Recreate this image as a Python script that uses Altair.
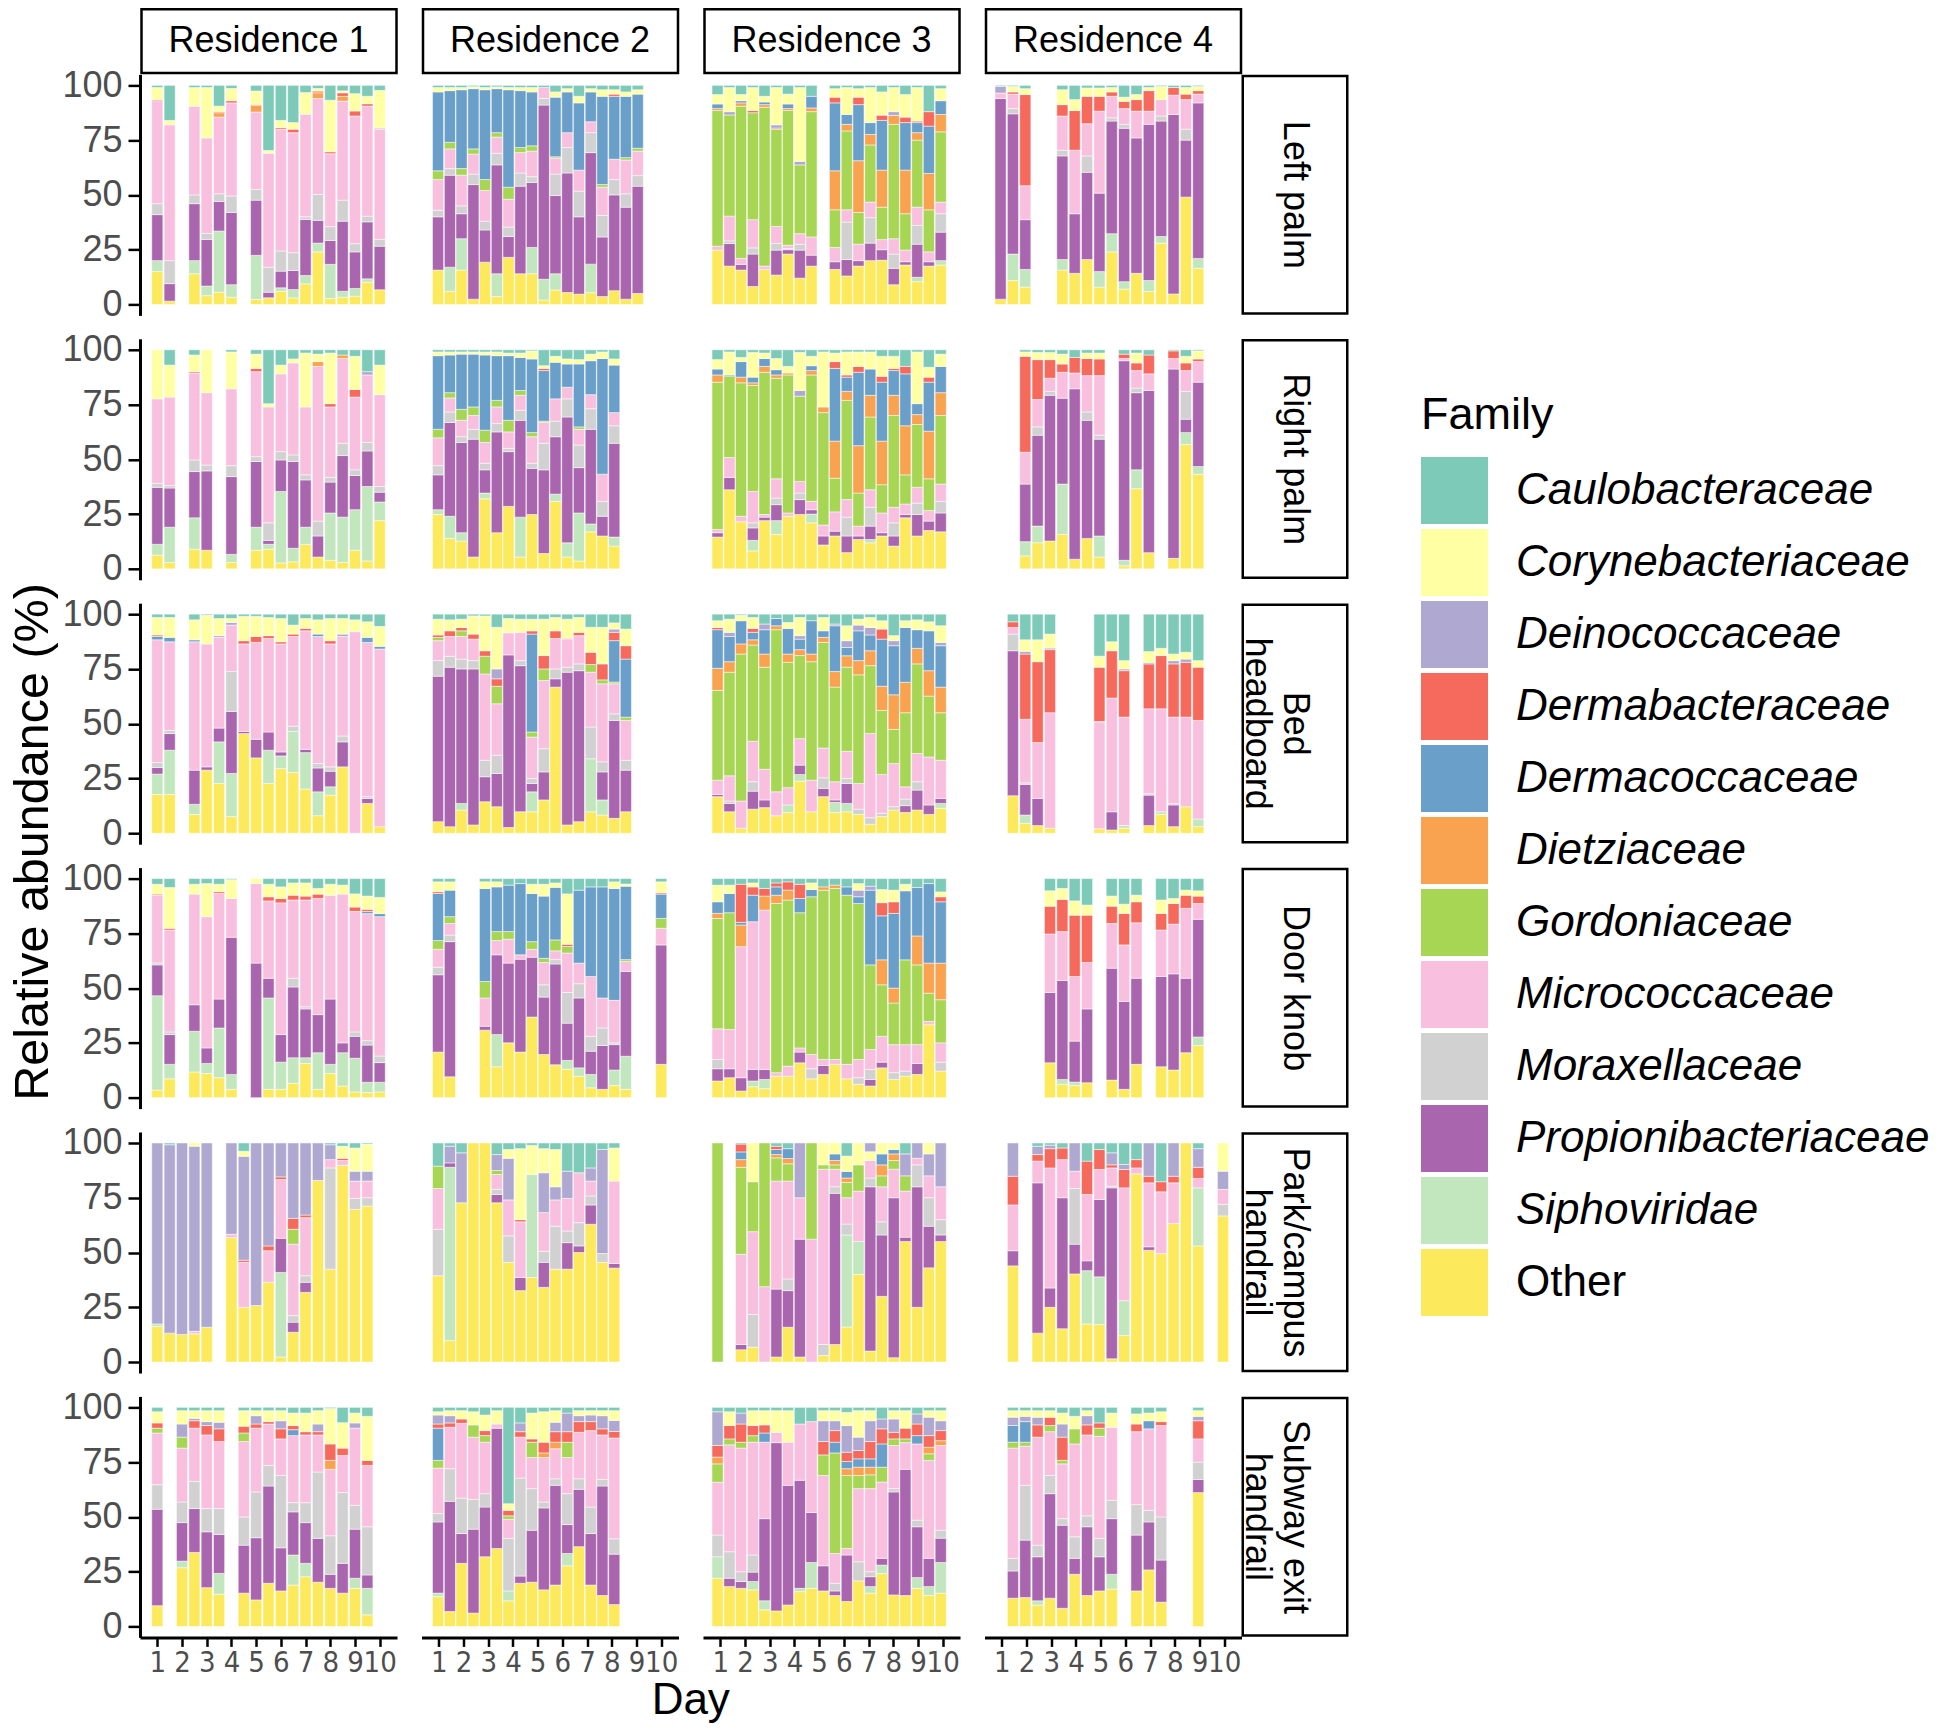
import altair as alt
import pandas as pd

FONT = "Liberation Sans, Arial, sans-serif"
NARROW = "Liberation Sans Narrow, DejaVu Sans Condensed, Liberation Sans, sans-serif"

FAMILIES = ["Caulobacteraceae", "Corynebacteriaceae", "Deinococcaceae", "Dermabacteraceae",
            "Dermacoccaceae", "Dietziaceae", "Gordoniaceae", "Micrococcaceae", "Moraxellaceae",
            "Propionibacteriaceae", "Siphoviridae", "Other"]
COLORS = ["#7ECAB9", "#FFFFA3", "#AFA9D2", "#F66A5E", "#6A9FCA", "#F9A24F", "#A6D654",
          "#F8BFDF", "#D1D1D1", "#A965AE", "#C2E6BE", "#FDE95C"]
CODE = {"T": "Caulobacteraceae", "C": "Corynebacteriaceae", "D": "Deinococcaceae",
        "R": "Dermabacteraceae", "B": "Dermacoccaceae", "O": "Dietziaceae", "G": "Gordoniaceae",
        "K": "Micrococcaceae", "M": "Moraxellaceae", "P": "Propionibacteriaceae",
        "S": "Siphoviridae", "Y": "Other"}

RESIDENCES = ["Residence 1", "Residence 2", "Residence 3", "Residence 4"]
SURFACES = ["Left palm", "Right palm", "Bed headboard", "Door knob",
            "Park/campus handrail", "Subway exit handrail"]
SURFACE_STRIP = ["Left palm", "Right palm", "Bed\nheadboard", "Door knob",
                 "Park/campus\nhandrail", "Subway exit\nhandrail"]
DAY_TICKS = [1, 2, 3, 4, 5, 6, 7, 8, 9, 10]
Y_TICKS = [0, 25, 50, 75, 100]

# sampling days (bar centres) per residence
R1_X = [1.0, 1.5, 2.0, 2.5, 3.0, 3.5, 4.0, 4.5, 5.0, 5.5, 6.0, 6.5, 7.0, 7.5, 8.0, 8.5, 9.0, 9.5, 10.0]
R2_X = [0.97, 1.45, 1.92, 2.40, 2.87, 3.35, 3.82, 4.30, 4.77, 5.25, 5.72, 6.20, 6.67, 7.15,
        7.62, 8.10, 8.57, 9.05, 9.52, 10.00]
R3_X = [0.89, 1.37, 1.84, 2.32, 2.79, 3.27, 3.74, 4.22, 4.69, 5.17, 5.64, 6.12, 6.59, 7.07,
        7.54, 8.02, 8.49, 8.97, 9.44, 9.92]
R4_X = [0.95, 1.45, 1.95, 2.45, 2.95, 3.45, 3.95, 4.45, 4.95, 5.45, 5.95, 6.45, 6.95, 7.45,
        7.95, 8.45, 8.95, 9.45, 9.95]

# each bar: cumulative top (%) of each stacked family, bottom to top
# Y Other, S Siphoviridae, P Propionibacteriaceae, M Moraxellaceae, K Micrococcaceae,
# G Gordoniaceae, O Dietziaceae, B Dermacoccaceae, R Dermabacteraceae, D Deinococcaceae,
# C Corynebacteriaceae, T Caulobacteraceae
LP_R1 = ["Y15 S20 P41 M46 K93 R93.5 C99 T100", "Y1.5 P9.5 M20 K82 C84 T100", "",
         "Y14 S20 P46 M50 K90.5 C99 T100", "Y4 S8.4 P29.7 M32.4 K76 C99 T100",
         "Y5.6 S33.5 P47 M50.5 K85.5 O87.5 R88 C90.5 T100", "Y3.3 S9 P42 M49.5 K92 R93 C98.6 T100", "",
         "Y2.3 S22.4 P47.6 M52.5 K87.8 O90.9 R91.3 C97.4 T100", "Y3 P5.6 M17 K69 C70.3 T100",
         "Y6 S7.6 P15.2 M24.4 K80 R80.7 C84 T100", "Y3 S6.8 P15.5 M23.6 K78.4 R80 C83 T100",
         "Y9.4 S13.2 P38.8 M40 K86.8 C96.7 T100", "Y24 S28 P38.4 M50.2 K94 O96.6 R97.4 C98.6 T100",
         "Y2.7 S18.3 P29.2 M35.5 K68.8 R69.7 C93.2 T100", "Y3.3 S6 P38 M47.6 K92.8 O95 R96.6 C97.5 T100",
         "Y3.8 S7.3 P24 M27.7 K86 R88.3 C96.2 T100", "Y10.2 S11.7 P37.7 M40.3 K90.5 R91.6 C95 T100",
         "Y6.7 P26.6 M29.7 K80 D80.5 C97.7 T100"]
RP_R1 = ["Y6.3 S11.2 P37.2 M39 K77.6 C100", "Y2.9 S19 P36.9 M38 K78.4 C93 T100", "",
         "Y9 S23.3 P44.4 M49.7 K89.4 R90 C97.6 T100", "Y8.5 P44.7 M47.4 K80.4 C100", "",
         "Y2.9 S6.6 P42.1 M47.1 K82.2 C99 T100", "",
         "Y8.5 S19 P49 M51.2 K90 R91.5 C98 T100", "Y9 S11.2 P13 M21 K73.9 C75.4 T100",
         "Y2.7 S35.3 P49.7 M53.5 K89 C93 T100", "Y3.2 S9.4 P49 M52 K94 C95.8 T100",
         "Y11.2 S19 P40.6 M42.9 K73.9 C98.5 T100", "Y5.4 P15 M21.8 K92.4 O94.6 C98 T100",
         "Y3.9 S25.5 P39.6 M41.7 K73.9 R75.4 C98.5 T100", "Y2.9 S23.6 P51.7 M57.3 K96 O97.6 T100",
         "Y8.5 S27 P42.6 M45.2 K78.4 R81.9 C97 T100", "Y3.6 S37.6 P53.8 M57.7 K88.5 D90 T100",
         "Y22 S30.5 P35 M37.6 K79.5 C93 T100"]
BH_R1 = ["Y17.7 S27 P30 M32.3 K88.3 B89.8 R90.5 C98.5 T100", "Y17.7 S37.9 P45.5 M47 K87.4 B89.4 C98.5 T100", "",
         "Y8.6 S13.2 P28.8 K87.4 B88.3 C97.4 T100", "Y28.8 P30.3 K86.4 C99.5 T100",
         "Y22.7 S41.7 P48 K89.4 D90.2 C98 T100", "Y7.6 S27.3 P55.6 M73.8 K95 D96.2 C98 T100",
         "Y45.5 P46.5 K86.4 R87.9 C99 T100", "Y34.4 P42.9 K87.1 R89.8 C99 T100",
         "Y22.7 S37.9 P46.2 K88.9 R90.2 C98.5 T100", "Y29.5 S35.3 P37.1 K86.4 R87.4 C98 T100",
         "Y27.7 S46.5 M48.9 K89.8 R90.9 C95 T100", "Y20.2 S36.8 P38.3 K92.4 R93.5 C98 T100",
         "Y8 S18.9 P29.8 M31.8 K89.8 B90.9 C97.4 T100", "Y17.4 S21.2 P28.3 M30.3 K86.4 R87.9 C98 T100",
         "Y30.3 P41.7 M44.4 K89.8 D90.9 C98 T100", "K92 C97.4 T100",
         "Y13.6 P15.9 M16.7 K87.1 B89.4 C96.5 T100", "Y3 K84.1 B85.3 C94.4 T100"]
DK_R1 = ["Y3.5 S46.5 P60.6 M61.5 K92.4 O93 C97.4 T100", "Y8.6 S15.2 P28.8 M30 K76.5 R77.3 C95.9 T100", "",
         "Y11.7 S30.3 P42.4 K92.9 C97.4 T100", "Y11 S15.6 P22.7 K82.6 C97.7 T100",
         "Y9.1 S31.8 P45 K93.2 R94 C97.4 T100", "Y3.8 S10.6 P73.2 K90.9 C99.5 T100", "",
         "P61.4 K97.7 C100", "Y3.8 S45.5 P54.5 K89.8 R91.7 C97.4 T100",
         "Y3.8 S16.2 P28.8 K88.9 R90.9 C96.2 T100", "Y6.5 S18.2 P50.5 M54.5 K90.2 R92.4 C98 T100",
         "Y15.6 S18.2 P40.5 M41.5 K90.2 R92 C98 T100", "Y3.8 S20.5 P37.9 K90.9 R92.9 C95.5 T100",
         "Y11 S15.2 P45 K92.4 C97.4 T100", "Y5.3 S20.5 P25 K92.9 C97 T100",
         "Y2.6 S18 P28 M30 K85 R87 C93 T100", "Y2.3 S7 P24 M26 K84 B85 R86 C92 T100",
         "Y2.6 S7 P16 M19 K82.6 B84 C91.4 T100"]
PH_R1 = ["Y16.2 S17.4 D100", "Y13.2 D99.2 T100", "Y12.6 D100", "Y12.9 K14 D98.5 C100", "Y15.9 D100", "",
         "Y56.8 K58.3 D100", "Y25 K45.5 R46.5 D93.9 C96.2 T100", "Y25.8 D100",
         "Y36.4 K50.8 R53 D100", "Y2.3 S40.9 P56.5 K83.3 R84.5 D100",
         "Y13.6 P18.2 M21.2 K53.8 G60.6 R65.6 D100", "Y31.8 P36.4 M39.4 K65.9 R67.1 D100",
         "Y82.9 D100", "Y42.4 M88.6 K92.4 D99.2 T100", "Y89.8 K92 R93 C98.5 T100",
         "Y69.7 M74.7 K82.6 D87.1 C97.7 T100", "Y71.2 M75 K82.6 D87.1 C99.5 T100", ""]
SH_R1 = ["Y9.5 P53.5 M64.7 K88.3 G90.5 R92.9 C98 T100", "",
         "Y26.8 S29.8 P47.4 M56.8 K81.4 G86.4 D92.4 C98.5 T100",
         "Y33.8 P53.8 M66.2 K90.5 R93.9 D95 C98.5 T100",
         "Y17.7 P43.2 M53.8 K87.4 R91.7 D93.5 C98.5 T100",
         "Y14.7 S24.2 P42 M53.8 K84.4 R90.2 D93.2 C98.5 T100", "",
         "Y15.2 P37.1 M50 K84.4 G88.3 R91.4 C98.5 T100",
         "Y12.1 P40.5 M61.4 K90.5 R92.4 D96.2 C98.5 T100",
         "Y19.7 P64.1 M73.5 K92.4 R93.5 C98.5 T100",
         "Y16.2 P35.9 M68.9 K85.6 R90.2 D93.9 C98.5 T100",
         "Y18.9 S32.6 P52.3 M56.5 K87.1 B89.8 R91.7 C97.4 T100",
         "Y22.7 S28.8 P47.4 M56.5 K87.4 R88.9 C97.4 T100",
         "Y20.2 P40.2 M70.5 K87.4 R88.9 D92.4 C98.5 T100",
         "Y17.4 P23.8 M41.4 K71.7 O75.8 R83.3 C99.5 T100",
         "Y15.2 P28.8 M61.1 K78 R81.4 C93 T100",
         "Y17.4 S22 P44.4 M55.3 K90.5 D92.9 C97.4 T100",
         "Y5.3 S17.4 P23.5 M45.5 K73.5 R75.8 C95.9 T100", ""]

LP_R2 = ["Y15.7 P40 M43 K57 G61 B97 C99 T100", "Y6 S17 P59 M62 K71 G74 B97.6 C99 T100",
         "Y15.7 S30 P41.4 M45 K59 G62 B98 C99 T100", "Y2.4 P54.7 M59.5 K68.6 G71 B98.5 C99.4 T100",
         "Y19.3 P34 M38 K52 G57 B98 C99 T100", "Y3.6 S14 P63.7 M69 K76.4 G78.4 B98.5 C99.3 T100",
         "Y21.5 P31 M35.3 K48 G53.5 B98 C99 T100", "Y14 P54 M60 K69.3 G71.6 B97.6 C99 T100",
         "Y14 S26 P55.7 M58.3 K70 G72.4 B97 C99 T100", "Y2 S11.5 P91 M94 K99 T100",
         "Y6.6 S14 P49.7 M59.5 K66.8 G67.4 B94.6 C97 T100", "Y5.4 P60 M71.6 K78.4 B97 C98.5 T100",
         "Y4.7 P40 M51.7 K61.3 B92 C95 T100", "Y5.4 S18.4 P69.3 M78.4 K83.4 B97 C98.5 T100",
         "Y3.6 P30.8 M40.6 K53.5 G54.7 B95 C98 T100", "Y6.3 P50 M57 K66.3 B95 R96 C98 T100",
         "Y2.4 P44.4 M50.5 K65.9 G67 B95 C97 T100", "Y5 P54 M58.8 K70 G71.3 B96 C98 T100", "", ""]
RP_R2 = ["Y24.8 S27 P42.9 M47.1 K59.8 G63.7 B97.3 C99 T100", "Y13.9 S24 P66.8 M71.6 K78 G80.4 B97.6 C99 T100",
         "Y12.7 S16.5 P57.7 M60.3 K67.8 G72.8 B98 C99 T100", "Y5.4 P59.2 M63.7 K70 G73.9 B98 C99 T100",
         "Y32 S34.6 P45.2 M48.2 K57.7 G63.3 B97.6 C99 T100", "Y16.5 P62.5 M66.3 K73.9 G76.9 B97.3 C99 T100",
         "Y28.5 P53.5 M55 K62.5 G67.8 B97.3 C98.5 T100", "Y5.4 S23.6 P67.8 M72.4 K79.2 G81.4 B96.5 C98.5 T100",
         "Y24.8 P45.9 M48.2 K60.3 G62.2 B95.8 C99.5 T100", "Y7 P45.2 M57.3 K66.8 G67.4 B90.5 R91.5 C92.7 T100",
         "Y30.8 S34.1 P60.3 M67.4 K77.6 B94.3 C97 T100", "Y5.4 S11.9 P69.3 M77.6 K82.9 B93.5 C95.8 T100",
         "Y3.6 S25.5 P46.2 M56.5 K63.7 G64.8 B93.5 C95.5 T100", "Y16.9 S20.5 P63.7 M73.1 K79.5 B95 C98 T100",
         "Y15 P24 M30.8 K43.2 B96 C99 T100", "Y10.4 S14.5 P57.3 M65.3 K71.3 B93 C95.8 T100",
         "", "", "", ""]
BH_R2 = ["Y5.3 P71.7 M78.8 K87.9 G89.4 R90.5 C97.7 T100", "Y3 P75.8 M80.8 K89.8 R92.4 C97.4 T100",
         "Y10.6 S13.6 P75 M79.5 K89.8 G92.4 R93.9 C97.7 T100", "Y3.8 P75 M78.8 K88.6 R90.9 C99.2 T100",
         "Y14.4 P25.8 M33.3 K72.7 G80.8 R83.3 C99.2 T100", "Y12.1 P27.3 M35.6 K59.1 G67.1 R70.5 D75 C94 T100",
         "Y2.6 P81.4 K91.5 C98 T100", "Y9.8 P76.5 M78.8 K91.7 C97.7 T100",
         "Y9.8 S18.9 P22.7 M25 K43.9 G46.2 B90.9 R92.4 C97.7 T100", "Y15.2 P28 M38.6 K69.7 G75 R81.1 C97.7 T100",
         "Y66.7 P70.5 M75 K88.9 R92.4 C98.5 T100", "Y3.8 P73.5 M75.8 K88.6 R89 C97.7 T100",
         "Y5.3 P74.2 M77.3 K90.2 R91.7 C98.5 T100", "Y9.8 S34 M48.5 K73.5 G77 R82.6 C94 T100",
         "Y8.3 S15.2 P28 M32.6 K68.2 G70 R77.3 C94 T100", "Y6.8 P51.5 M54.5 K68.2 G69 B87.9 R91.7 D93.2 C96 T100",
         "Y9.8 P28.8 M33.3 K51.5 G53 B79.5 R85.6 C93.2 T100", "", "", ""]
DK_R2 = ["Y20.8 P56.1 M59.5 K67.7 G71.7 B93.2 R94 C98.5 T100", "Y9.5 P71.2 M74.2 K79.5 G82.6 B94.7 C98.5 T100",
         "", "", "Y30.8 P32.6 K45.5 G53 B95.5 C98.5 T100", "Y14.1 S28.8 P65.2 K71.7 G75.8 B96.2 C98.5 T100",
         "Y25 P61.4 K72.3 G75.8 B97 T100", "Y20.8 P63.2 K65.2 B97.7 T100",
         "Y36.8 P64.1 K67.7 G71.2 B93.2 C97.4 T100", "Y19.7 P45.9 M51.5 K61.7 G63.6 B92 C97.4 T100",
         "Y15 P61 M63 K67 G72 B96 C98 T100", "Y13 S17 P34 M48 K66 G69 R70 C93 T100",
         "Y9.8 S13.6 P45.5 M52 K61.4 B94.7 T100", "Y4.5 S10.6 P21.2 M28 K55.3 B96.2 T100",
         "Y3.8 P23.8 M31.8 K45.5 B96.2 T100", "Y5.6 S12.6 P24.2 M25 K44.4 B95.5 C98.5 T100",
         "Y3.8 S18.9 P57.6 K62.1 G63 B96.5 C97.5 T100", "", "", "Y15.2 P69.7 K77.3 G81.8 B92.9 R93.5 C98.5 T100"]
PH_R2 = ["Y39.4 M60.6 K79.2 G89.4 T100", "Y9.8 S88.9 P90.9 D98.5 T100", "Y72.7 D95.5 T100", "Y100", "Y100",
         "Y72.7 P76.5 M78.8 K85.6 G87.4 D94.7 T100", "Y45.5 M57.6 K74 D93 C97 T100",
         "Y32.6 P38.6 K64 R65 C97.4 T100", "Y38.6 S85.6 C98.9 T100",
         "Y34.1 P45.5 M50.5 K68.2 D86.4 C97.4 T100", "Y42.4 M62 K74 D80 C97 T100",
         "Y42.4 P54.5 M59.8 K74.7 D87.1 T100", "Y50 P53 M63.6 K86.4 T100",
         "Y62.9 P71.7 M75.8 K82.6 D88.6 T100", "Y45.5 M49.5 D97 T100", "Y42.9 P45 K82.6 C97.7 T100",
         "", "", "", ""]
SH_R2 = ["Y13.6 S15.2 P47.7 M51.5 K72.3 G75.8 B90.5 R92.4 D96.5 C98 T100",
         "Y6.8 P57.1 M72 K90.9 R92.9 D96.2 C98.5 T100", "Y28.8 P42.4 M58.6 K92.7 R94.7 C98.5 T100",
         "Y6.1 P44.4 M58 K86.4 G92 C98 T100", "Y31.8 P54.5 M60.6 K84.1 G87.1 R89.4 C96.5 T100",
         "Y35.6 P90.5 K92.4 C98.5 T100", "Y11.7 S16.2 M40.2 K48.9 G50.5 R53 C56 T100",
         "Y19.7 P23 M67.7 K86.4 R88.9 D92.9 T100", "Y20.2 P43.9 M62.9 K77.1 G84.1 R85.6 C97.4 T100",
         "Y16.7 P54.1 M56.8 K77.1 O79.2 R84.1 C98 T100", "Y18.9 P64.4 M67.4 K81.1 O84.1 R88.9 D93.2 C98.5 T100",
         "Y27.7 S33.3 P46.5 M60.6 K77.1 G84.1 R88.9 D97.4 T100", "Y36.4 P62.6 M67.4 K88.6 R93.5 D96.2 C98.5 T100",
         "Y18.9 P42.4 M54.5 K89.4 R93.5 D96.5 C98.5 T100", "Y14.1 P64.1 M67.1 K87.4 R90.2 D96.2 C98.5 T100",
         "Y10 P33 M40 K86 R89 D94 C98.5 T100", "", "", "", ""]

LP_R3 = ["Y24.8 K26.6 G88.5 O89.4 B91.5 C95.8 T100", "Y17.5 P27.8 M29 K40.3 G86.5 D88 C99 T100",
         "Y15.7 P18.3 K21 G90.5 O92 B93 C95.8 T100", "Y8.2 P23 M25.8 K38.7 G87.5 R88.5 C99 T100",
         "Y16 K17.5 G90 O91.2 B92.4 C95 T100", "Y13.4 P24.8 M27.8 K35.6 G80 R80.5 D82 C99 T100",
         "Y23 P25 M25.5 K27 G88.5 O89.4 B91.5 C96 T100", "Y12 P24.8 M27.5 K32.3 G63.7 D65.3 C99 T100",
         "Y17.5 P22.5 K30.8 G88 O89.7 B95 T100", "",
         "Y16 P19.5 K26 G43.2 O61 B92 R94.6 C98.5 T100", "Y13 P20.5 M37.6 K43.2 G79.2 O82.2 B86.7 C99 T100",
         "Y17.5 P20 K27.5 G42 O65.6 B91.2 R94.6 C98.5 T100", "Y20 P28 M39.6 K46.7 G72.8 O77.6 B83 C99 T100",
         "Y20.2 P25 K29.6 G44.4 O61.3 B84 R86.4 C97 T100", "Y9 P16.5 M23 K30 G82.2 O86.3 D88 C99 T100",
         "Y18 P19.5 K24.8 G41.4 O61.3 B83 R85.5 C95.8 T100",
         "Y10.4 S12.4 P27.5 M36.1 K44.4 G75 O78.4 B83 R83.7 C99 T100",
         "Y17.5 P19.5 K24 G43.2 O59.8 B81.4 R88 T100", "Y18 S20 P33 M41.4 K46.7 G78.8 O86.7 B93 C98.5 T100"]
RP_R3 = ["Y14.5 P16.5 K18 G85.2 O88.5 B91.2 C95.5 T100", "Y36.1 P41.7 K50.8 G88 B88.5 C99 T100",
         "Y21.5 K24 G84.9 O87.5 B94.6 C96.5 T100", "Y8.2 S13 P18.7 M21 K35.3 G83.7 O84.9 B87.5 C98.8 T100",
         "Y22 P23.6 K24.8 G89.7 O92.4 B96 C98.5 T100", "Y15.7 S22 P29.3 M32.3 K41.1 G87 O88.5 B90.9 C96 T100",
         "Y24 K25.5 G88.5 O89.4 C92.4 T100", "Y24.8 P31.6 M34.6 K39.9 G78.8 D81.4 C98.8 T100",
         "Y21 S25 P27 K30.8 G88.5 O90.5 B92.7 C97 T100", "Y10.9 P15 K20 G71.3 O73.9 C99 T100",
         "Y15 P17.2 K26 G41.4 O58.3 B91.5 R94.6 C98.5 T100", "Y7.4 P15 M23.6 K31.6 G76.9 O81 B87.5 R88.5 C99 T100",
         "Y13.4 P15 K19.5 G34.6 O56.2 B89.7 R92.4 C99 T100", "Y11.9 S13.4 P19.5 M28.1 K36.1 G69.3 O79.2 B91.2 C99 T100",
         "Y15 P16.5 K25.5 G38.4 O58.3 B85.2 R87.9 C97 T100", "Y10.4 P15 M21 K28.1 G70 O79.2 B90.5 R91.5 C97 T100",
         "Y23.3 P24.8 K29.6 G42.9 O65.3 B89 R92.4 T100", "Y15 P24.8 M30 K37.2 G65.9 O70.4 B75.4 C99 T100",
         "Y17.5 P21.8 K26.6 G41.1 O62.8 B85.2 R87.5 C92 T100", "Y16.9 P25.5 M30.8 K38.7 G70 O80.4 B92.4 C98 T100"]
BH_R3 = ["Y16.7 P17.7 K24.2 G65.2 O75.3 B92.9 R93.9 C97 T100",
         "Y9.8 P13.6 M14.7 K26.2 G73.5 O78.3 B89.8 D91.7 C97.7 T100",
         "Y2.3 K14.7 G81.8 O86.4 B97 C99.5 T100", "Y11 P19.2 M23.5 K42 G85.9 O88.3 B91.7 R93.5 C98.5 T100",
         "Y11.7 P15.2 K29.2 G75.8 O81.8 B92.9 D95.5 T100", "Y8 K18.9 G92.9 O94.7 B98 T100",
         "Y9.5 S12.9 K20.8 G78 O81.8 B93.5 C96.2 T100",
         "Y23.8 S26.8 P31.1 K43.2 G81.1 O83.8 B88.6 D90.2 C98.5 T100",
         "Y9.8 K24.2 G78.3 O81.8 B97 T100", "Y16.7 P20.5 M25.3 K38.9 G87.1 O89.4 B92.4 C98.5 T100",
         "Y9.5 S14.1 P15.2 K23.5 G66.7 O73.8 B94.7 D95.5 T100",
         "Y9.8 S13.6 P22.7 M25 K37.4 G75.8 O81 B84.8 D87.9 C94.7 T100",
         "Y8.6 M11 K22.7 G72.3 O78.8 B92.4 D95 C97.7 T100", "Y4.1 M7.1 K45.5 G76.5 O83.3 B90.5 D93.9 C98.5 T100",
         "Y7.6 M9.1 K26.8 G56.1 O67.1 B88.6 R93.2 C97 T100", "Y10.6 M12.1 K31.8 G47.4 O63.2 B85.6 D87.9 C90.2 T100",
         "Y9.5 P12.6 M15.6 K21.2 G55 O68.9 B93.9 C97 T100", "Y10.6 P19.7 M23.5 K36.4 G77.3 O84.4 B92.9 C97.4 T100",
         "Y8.6 P12.9 K34.8 G62.6 O74.2 B92.4 C96.5 T100", "Y11.4 S13.6 P15.9 K33.3 G55 O66.7 B85.6 D87.1 C94.7 T100"]
DK_R3 = ["Y7.6 P13.2 M17.4 K31.4 G81.8 O84.1 B89.4 C97 T100", "Y9.1 P13.2 K31.1 G84.4 B93.2 C97 T100",
         "Y3 P9.1 K68.9 O78.8 B80 R97.4 T100", "Y5 S7.6 P12.9 K80.3 B92.4 R96.2 C98 T100",
         "Y4.1 S8.3 P12.9 K85.6 O92 R95.5 T100", "Y9.8 K11.4 G88.6 O92.4 B96.2 R98 T100",
         "Y9.8 K14.4 G90.2 O94.7 R98.5 T100", "Y15.9 P20.8 K22.7 G84.4 B90.9 R97.4 T100",
         "Y8.6 M13.2 K19.7 G91.7 B95 C98 T100", "Y10.6 P14.7 K17.4 G94.7 O96.2 T100",
         "Y15.2 K17.4 G95.5 O97 T100", "Y8.6 K15.2 G92.4 B96.2 T100",
         "Y6.1 M9.1 K17.4 G88.6 B91.7 D94.7 C97.7 T100", "Y5.3 P8.3 M12.9 K22 G60.6 B94.7 D96.5 T100",
         "Y13.6 P16.2 K28 G51.5 O62.9 B83 R89 C95 T100", "Y8.3 M11.4 K24.2 G43.2 O50 B84.1 R89.4 C94.7 T100",
         "Y9.8 M12.1 K24.2 G62.9 B94.4 C97.4 T100", "Y10.6 P15.6 K24.2 G60.6 O73.8 B95.9 T100",
         "Y33.3 K34.8 G47.7 O61.4 B97.7 T100", "Y12.1 M16.2 K25 G44.7 O61.4 B89.4 R91.7 C93.9 T100"]
PH_R3 = ["G100", "", "Y5.6 P8 K49.2 G88.9 O92.4 B95.9 R99.5 T100", "Y6.8 M21.7 K59.5 G82.3 C100",
         "K34.4 G100", "Y2.3 P33.3 K82.6 G93.2 O94.7 B97 R98.5 T100",
         "Y15.9 P32.6 M37.9 K82.6 G90.5 O92.9 B97.4 T100", "Y2.3 P56.1 K75 D100", "K56.1 G100",
         "Y3 M8 K88 G90 C100", "Y8 P77 M80 K88 G90 O92 B95 C100", "Y16 S58 M63 K75 G82 O84 B87 C94 T100",
         "Y40 S55 K78 G90 C100", "Y5 P80 M84 K92 C96 D100", "Y30 P58 M64 K80 G85 O90 B95 C100",
         "Y2 P75 K88 G92 O95 B97 C100", "Y55 P57 K78 G85 D95 T100", "Y25 P80 M90 K93 D100",
         "Y43 P62 M75 K85 D95 C100", "Y55 P58 M65 K80 D100"]
SH_R3 = ["Y22 S31.8 M41.7 K65.8 G74.2 O77.3 R82.6 D98 T100", "Y18.2 P22 M34.1 K82.9 G85.6 R91.7 C98 T100",
         "Y17.4 P20.5 M25 K81.4 G84.1 R92.4 D97.4 T100", "Y16.7 S20.5 P24.8 M32.6 K84.1 G87.1 R91.7 C98.5 T100",
         "Y7.6 S11.7 P49.2 K84.1 B88.3 R92 C98.5 T100", "Y7.1 P83.9 K88.6 C98.5 T100",
         "Y9.8 P64.4 K84.1 C98.5 T100", "Y15.9 S17.4 P66.7 K92.4 T100", "Y17.4 S29.2 P52 K93.5 T100",
         "Y16.2 P27.7 K68.9 G78.3 R84.4 D93.9 C98.5 T100",
         "Y14.1 P16.2 M19.7 K33.3 G79.2 B84.1 R89.4 D93.9 C98.5 T100",
         "Y11.4 P32.6 K35.6 G68.9 O72 B75.3 R79.5 D91.7 C97.7 T100",
         "Y20.8 M29.5 K62.9 G68.9 O72.7 B76.5 R80.3 D86.4 C98.5 T100",
         "Y15.2 S18.2 P22.7 M25 K62.9 G69.2 O72.7 B76.5 R84.4 D93.9 C98.5 T100",
         "Y24.2 S28 P31.1 K65.9 G72.7 B83.3 R90.2 D94.7 T100",
         "Y14.4 P61.4 M62.9 K82.6 G85.6 R88.6 D94.7 C98.5 T100", "Y14.1 P71.7 K83.9 G85.6 R90.5 C98.5 T100",
         "Y17.4 S22.3 P45.5 M48.5 K83.3 B87.1 R92.4 D97 T100",
         "Y14.1 S18.2 P31.1 K75.8 G78.8 O81.8 R87.1 D95.5 C98.5 T100",
         "Y15.2 S29.2 P40.3 M43.9 K82.6 O84.8 R89.4 D93.9 C98.5 T100"]

LP_R4 = ["Y2.4 P94 K96.5 D99.5 T100", "Y10.9 S23 P87 M89.4 K96 R97 C99.5 T100",
         "Y7.9 S16 P38.7 K54.2 R95.8 C98.5 T100", "", "",
         "Y15.7 S20.5 P67.8 M70.4 K86 R91.2 C98 T100", "Y14.2 P41.4 K70.4 R88.5 C93.5 T100",
         "Y20.5 P60.3 M67.8 K82.5 R95 C98.8 T100", "Y7.9 S15 P50.8 K88.2 R95 C98.8 T100",
         "Y24 S32.3 P83.7 M85.2 K95 R97 C99 T100", "Y7 S10.4 P80.4 M82.2 K89.4 R92.7 C94.6 T100",
         "Y14.2 P76 K88.2 R93.5 C95.8 T100", "Y5.9 S10.9 P82.2 K88.2 R97.6 C99 T100",
         "Y28 S31 P83.7 M86 K93.5 C99.5 T100", "Y4.8 P86.7 K95.5 R99 T100",
         "Y49 P75 M80 K93.5 R96 C99 T100", "Y16.5 S21 P92 K96 R97.6 C99.5 T100", "", ""]
RP_R4 = ["", "", "Y5.9 S12.4 P38.7 K53.2 R97 C99 T100", "Y11.9 S19.5 P61 M64.8 K77.3 R95.5 C98.8 T100",
         "Y12.7 P79.2 M81 K87 R95.5 C98.8 T100", "Y15.7 S38.7 P77.9 K89.7 R93.5 C98 T100",
         "Y4.4 P82.2 K89.4 R96.5 T100", "Y13.9 P67.8 M71.6 K88.2 R96 C98.5 T100",
         "Y5.4 S15 P59.2 M61 K88.2 R95.8 C98.5 T100", "", "Y1.4 S3.9 P95 K96 R98 T100",
         "Y36.6 S45.2 P80.4 M82.5 K90.5 R94 C98.5 T100", "Y7.4 P81.4 K89 R97.6 T100", "",
         "Y4.8 P91.2 K96 R99.5 T100", "Y56.8 S62.2 P68.3 M81 K90.5 R94 C97 T100",
         "Y43.2 S46.7 P85.2 K94.6 R95.8 C99.5 T100", "", ""]
BH_R4 = ["", "Y17.1 P83.3 M90.9 K93.9 R96.5 T100", "Y4.5 S8.3 P22.3 M23 K52 R81.8 D83 C88.3 T100",
         "Y3.5 P15.9 K41.4 R78.3 C88.3 T100", "Y2.3 K55 R83.8 D84.5 C90.9 T100", "", "", "",
         "Y2 K50.5 D51 R75.8 C80.8 T100", "Y1.5 P9.8 K61.7 R83.3 C87.4 T100",
         "Y2.3 S3.5 K53 R74.2 D75 C78.8 T100", "",
         "Y3.5 P17.4 M18 K56.8 R77.3 D78 C82.9 T100", "Y8.6 S9.8 K56.8 R81.1 C84.4 T100",
         "Y3 P12.9 M13.5 K53 R77.3 D78.8 C81.8 T100", "Y12.1 K53 R78 D79.5 C82.6 T100",
         "Y3 S6.5 K51.5 R75.8 C78.8 T100", "", ""]
DK_R4 = ["", "", "", "", "Y15.9 P48 K74.7 R87.4 C94.4 T100", "Y6.1 S8.3 P53.5 K75.8 R90.5 C95.5 T100",
         "Y5.6 S7.1 P25.8 K55.3 R83.3 C89.8 T100", "Y6.8 P40.5 K61.7 R83.3 C87.9 T100", "",
         "Y8 P59.1 K79.5 R87.4 C92 T100", "Y3.8 P43.9 K69.7 R84.1 C88.3 T100",
         "Y15.2 P54.5 K79.8 R89.4 C92.4 T100", "", "Y14.1 P55.3 K76.5 R84.1 C90.2 T100",
         "Y12.6 P56.5 K79.2 R88.6 C90.9 T100", "Y20.5 P54.5 K86.4 R92.4 C94.7 T100",
         "Y23.8 S27.7 P81.4 K88.6 R92 C94.4 T100", "", ""]
PH_R4 = ["", "Y43.9 P50.8 K71.7 R84.8 D100", "", "Y13.2 P81.8 K91.7 R94.7 D98.5 T100",
         "Y25 P33.8 K88.6 R97.4 D99 T100", "Y15.2 P75 K92.4 R97.7 T100",
         "Y40.2 P53.8 M79.2 K87.1 D100", "Y17.4 S41.7 P46.2 K76.5 R91.7 T100",
         "Y17.1 S38.9 P74.2 K87.9 R97 T100", "Y1.5 P79.5 M80.3 K88.6 R90 D95.5 T100",
         "Y12.1 S28 K79.5 R87.9 D90.2 T100", "Y85.9 K88.6 R92.4 T100",
         "Y51 P52.6 K81.8 R84.8 D100", "Y49.5 K77.7 R82.3 T100", "Y63.2 K81.8 R84.8 D100",
         "Y100", "Y53 S79.5 K83.8 R88.9 D97.4 T100", "", "Y66.7 M72 K78.8 D87.1 C100"]
SH_R4 = ["", "Y12.9 P25.3 M31.1 K81.4 G84.1 B91.7 D95.5 C98.5 T100",
         "Y13.2 P39.4 M64.4 K82.3 G84.1 B93.5 D95.9 C98.5 T100",
         "Y9.8 S11.7 P31.8 M37.1 K86.4 R92 D95.5 C98.5 T100",
         "Y12.9 P60.6 M68.9 K88.9 G91.7 R95.5 C98.5 T100",
         "Y8.3 P46.2 M49.2 K74.2 G75.8 R86.4 D92.4 C97.4 T100",
         "Y23.8 P31.1 M40.9 K83.3 G90.2 C95.9 T100", "Y14.1 P45.5 M50.5 K87.4 R92 D96.2 C98.5 T100",
         "Y16.2 P31.8 M40.2 K86.8 G90.5 R92.9 T100", "Y17.1 S23.8 P49.2 M57.6 K90.9 C97.4 T100", "",
         "Y16.2 P41.7 M55.6 K88.9 R92.4 C97 T100", "Y25.8 P47.7 M53 K90.2 B93.9 C97.4 T100",
         "Y11.1 P30.3 M50 K91.7 R93.5 C98 T100", "", "",
         "Y61.1 P67.1 M75 K85.6 R93.9 D95.9 C98.5 T100", "", ""]

SAMPLE_DAYS = {"Residence 1": R1_X, "Residence 2": R2_X, "Residence 3": R3_X, "Residence 4": R4_X}
BARS = {
    ("Residence 1", "Left palm"): LP_R1, ("Residence 2", "Left palm"): LP_R2,
    ("Residence 3", "Left palm"): LP_R3, ("Residence 4", "Left palm"): LP_R4,
    ("Residence 1", "Right palm"): RP_R1, ("Residence 2", "Right palm"): RP_R2,
    ("Residence 3", "Right palm"): RP_R3, ("Residence 4", "Right palm"): RP_R4,
    ("Residence 1", "Bed headboard"): BH_R1, ("Residence 2", "Bed headboard"): BH_R2,
    ("Residence 3", "Bed headboard"): BH_R3, ("Residence 4", "Bed headboard"): BH_R4,
    ("Residence 1", "Door knob"): DK_R1, ("Residence 2", "Door knob"): DK_R2,
    ("Residence 3", "Door knob"): DK_R3, ("Residence 4", "Door knob"): DK_R4,
    ("Residence 1", "Park/campus handrail"): PH_R1, ("Residence 2", "Park/campus handrail"): PH_R2,
    ("Residence 3", "Park/campus handrail"): PH_R3, ("Residence 4", "Park/campus handrail"): PH_R4,
    ("Residence 1", "Subway exit handrail"): SH_R1, ("Residence 2", "Subway exit handrail"): SH_R2,
    ("Residence 3", "Subway exit handrail"): SH_R3, ("Residence 4", "Subway exit handrail"): SH_R4,
}

rows = []
for (res, surf), bars in BARS.items():
    days = SAMPLE_DAYS[res]
    for i, spec in enumerate(bars):
        if not spec:
            continue
        prev = 0.0
        for tok in spec.split():
            top = float(tok[1:])
            rows.append({"res": res, "surf": surf, "day": days[i],
                         "family": CODE[tok[0]], "lo": prev, "hi": top})
            prev = top
DF = pd.DataFrame(rows)

W, H = 257, 241
SPX, SPY = 24.5, 23.4
TOP_H = 43.0            # strip row cell height (box continues into the row gap)
RIGHT_W = 84.0          # strip column cell width (box starts back inside the column gap)
STRIP_W = 107
XS = alt.Scale(domain=[0.3, 10.7], nice=False, zero=False)
YS = alt.Scale(domain=[-5, 105], nice=False, zero=False)
ONE = alt.Data(values=[{"k": 1}])

LEGEND = alt.Legend(
    title="Family", orient="none", legendX=1281, legendY=385,
    symbolType="square", symbolSize=4489, symbolStrokeWidth=0, symbolOpacity=1,
    labelFontSize=44, labelFont=FONT, labelColor="black",
    labelFontStyle={"expr": "datum.label == 'Other' ? 'normal' : 'italic'"},
    titleFontSize=45, titleFont=FONT, titleFontWeight="normal", titleColor="black",
    rowPadding=5, labelOffset=28, titlePadding=19, labelLimit=700, padding=0)


def panel(ri, si):
    res, surf = RESIDENCES[ri], SURFACES[si]
    xaxis = None
    yaxis = None
    if si == 5:
        xaxis = alt.Axis(values=DAY_TICKS, format="d", title=None, grid=False,
                         labelFontSize=29, labelFont=NARROW, labelColor="#4D4D4D",
                         labelOverlap=False, labelFlush=False, labelBound=False, labelPadding=2,
                         tickColor="black", tickWidth=2.5, tickSize=9,
                         domainColor="black", domainWidth=3)
    if ri == 0:
        yaxis = alt.Axis(values=Y_TICKS, title=None, grid=False,
                         labelFontSize=36, labelFont=FONT, labelColor="#4D4D4D", labelPadding=6,
                         labelFlush=False, labelOverlap=False,
                         tickColor="black", tickWidth=2.5, tickSize=12,
                         domainColor="black", domainWidth=3)
    bars = alt.Chart(DF).transform_filter(
        (alt.datum.res == res) & (alt.datum.surf == surf)
    ).transform_calculate(
        x0="datum.day - 0.225", x1="datum.day + 0.225"
    ).mark_rect(stroke="white", strokeWidth=0.5).encode(
        x=alt.X("x0:Q", scale=XS, axis=xaxis),
        x2="x1:Q",
        y=alt.Y("lo:Q", scale=YS, axis=yaxis),
        y2="hi:Q",
        color=alt.Color("family:N", scale=alt.Scale(domain=FAMILIES, range=COLORS), legend=LEGEND),
    )
    layers = [bars]
    if ri == 0 and si == 2:
        layers.append(alt.Chart(ONE).mark_text(
            angle=270, fontSize=48.5, font=FONT, color="black", baseline="middle", align="center"
        ).encode(x=alt.value(-107), y=alt.value(238.8), text=alt.value("Relative abundance (%)")))
    if ri == 1 and si == 5:
        layers.append(alt.Chart(ONE).mark_text(
            fontSize=44, font=FONT, color="black", baseline="middle", align="center"
        ).encode(x=alt.value(W + SPX / 2), y=alt.value(304.5), text=alt.value("Day")))
    return alt.layer(*layers).properties(width=W, height=H)


def col_strip(ri):
    top = 1.25
    bottom = TOP_H + SPY - 1.5
    box = alt.Chart(ONE).mark_rect(fill="white", stroke="black", strokeWidth=2.5).encode(
        x=alt.value(1.5), x2=alt.value(W - 0.5), y=alt.value(top), y2=alt.value(bottom))
    txt = alt.Chart(ONE).mark_text(fontSize=36, font=FONT, color="black", baseline="middle",
                                   align="center").encode(
        x=alt.value(W / 2), y=alt.value((top + bottom) / 2), text=alt.value(RESIDENCES[ri]))
    return alt.layer(box, txt).properties(width=W, height=TOP_H)


def corner():
    return alt.Chart(ONE).mark_rect(opacity=0).encode(
        x=alt.value(10), x2=alt.value(20), y=alt.value(10), y2=alt.value(20)
    ).properties(width=RIGHT_W, height=TOP_H)


def row_strip(si):
    left = -SPX + 1.25
    right = left + STRIP_W - 2.5
    box = alt.Chart(ONE).mark_rect(fill="white", stroke="black", strokeWidth=2.5).encode(
        x=alt.value(left), x2=alt.value(right), y=alt.value(1.5), y2=alt.value(H - 2))
    txt = alt.Chart(ONE).mark_text(fontSize=36, font=FONT, color="black", baseline="middle",
                                   align="center", angle=90, lineBreak="\n", lineHeight=38).encode(
        x=alt.value((left + right) / 2), y=alt.value(H / 2), text=alt.value(SURFACE_STRIP[si]))
    return alt.layer(box, txt).properties(width=RIGHT_W, height=H)


cells = [col_strip(i) for i in range(4)] + [corner()]
for si in range(6):
    cells += [panel(ri, si) for ri in range(4)]
    cells.append(row_strip(si))

chart = alt.concat(
    *cells, columns=5, spacing={"row": SPY, "column": SPX}, bounds="flush", align="each"
).resolve_scale(color="shared").properties(
    padding={"left": 0, "top": 0, "right": 0, "bottom": 0}
).configure(font=FONT, view=alt.ViewConfig(stroke=None))

chart.save("out.html", embed_options={"renderer": "svg", "actions": False})
